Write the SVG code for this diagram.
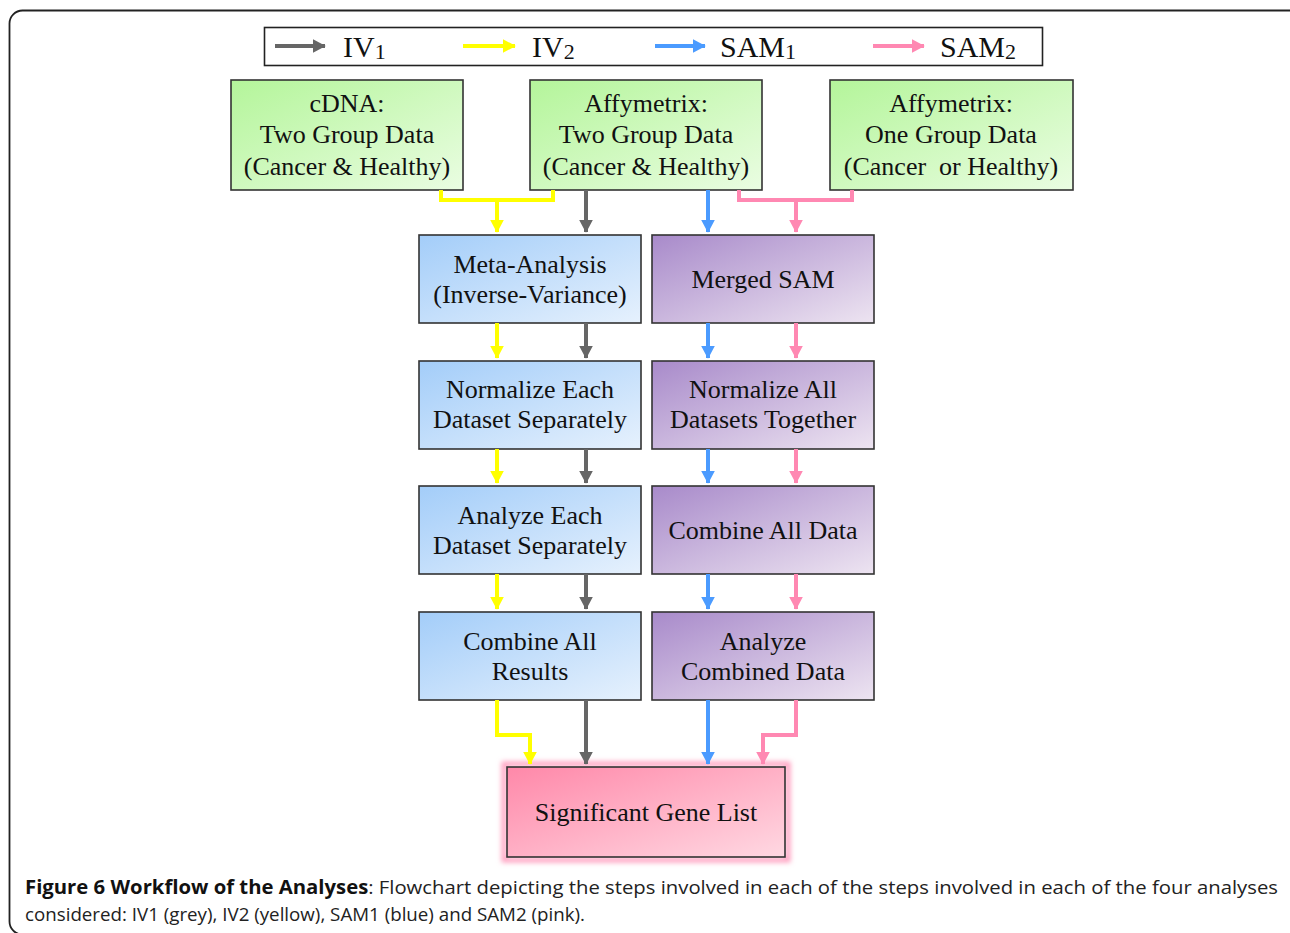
<svg xmlns="http://www.w3.org/2000/svg" width="1290" height="933" viewBox="0 0 1290 933">
<style>
.t{font-family:"Liberation Serif","Times New Roman",serif;fill:#111;text-anchor:middle}
.g{font-size:26px}
.b{font-size:26px}
.box{stroke:#333;stroke-width:1.6}
.c{fill:none;stroke-width:4}
.cap{font-family:"Open Sans","Liberation Sans",sans-serif;font-size:19px;fill:#222}
</style>
<defs>
<linearGradient id="gG" x1="0" y1="0" x2="1" y2="1"><stop offset="0" stop-color="#b4f59a"/><stop offset="1" stop-color="#eafde2"/></linearGradient>
<linearGradient id="gB" x1="0" y1="0" x2="1" y2="1"><stop offset="0" stop-color="#a3cdf9"/><stop offset="1" stop-color="#e6f1fd"/></linearGradient>
<linearGradient id="gP" x1="0" y1="0" x2="1" y2="1"><stop offset="0" stop-color="#a88aca"/><stop offset="1" stop-color="#ede4f1"/></linearGradient>
<linearGradient id="gK" x1="0" y1="0" x2="1" y2="1"><stop offset="0" stop-color="#ff88a9"/><stop offset="1" stop-color="#ffd8e2"/></linearGradient>
<filter id="glow" x="-10%" y="-10%" width="120%" height="120%"><feGaussianBlur stdDeviation="2.5"/></filter>
<marker id="aK" markerWidth="4" markerHeight="4" refX="3" refY="2" orient="auto" markerUnits="strokeWidth"><path d="M0,0.3 L3.2,2 L0,3.7 Z" fill="#666"/></marker>
<marker id="aY" markerWidth="4" markerHeight="4" refX="3" refY="2" orient="auto" markerUnits="strokeWidth"><path d="M0,0.3 L3.2,2 L0,3.7 Z" fill="#ffff00"/></marker>
<marker id="aB" markerWidth="4" markerHeight="4" refX="3" refY="2" orient="auto" markerUnits="strokeWidth"><path d="M0,0.3 L3.2,2 L0,3.7 Z" fill="#4b9bff"/></marker>
<marker id="aP" markerWidth="4" markerHeight="4" refX="3" refY="2" orient="auto" markerUnits="strokeWidth"><path d="M0,0.3 L3.2,2 L0,3.7 Z" fill="#ff88b2"/></marker>
</defs>
<rect x="0" y="0" width="1290" height="933" fill="#fff"/>
<rect x="9.5" y="10.5" width="1300" height="924" rx="13" fill="none" stroke="#222" stroke-width="1.8"/>

<g id="legend">
<rect x="264.5" y="27.5" width="778" height="38" fill="#fff" stroke="#222" stroke-width="1.6"/>
<line x1="275" y1="46" x2="325" y2="46" stroke="#666" stroke-width="4" marker-end="url(#aK)"/>
<text class="t" x="343" y="57" style="font-size:30px;text-anchor:start">IV<tspan font-size="22" dy="2">1</tspan></text>
<line x1="463" y1="46" x2="515" y2="46" stroke="#ffff00" stroke-width="4" marker-end="url(#aY)"/>
<text class="t" x="532" y="57" style="font-size:30px;text-anchor:start">IV<tspan font-size="22" dy="2">2</tspan></text>
<line x1="655" y1="46" x2="705" y2="46" stroke="#4b9bff" stroke-width="4" marker-end="url(#aB)"/>
<text class="t" x="720" y="57" style="font-size:30px;text-anchor:start">SAM<tspan font-size="22" dy="2">1</tspan></text>
<line x1="873" y1="46" x2="924" y2="46" stroke="#ff88b2" stroke-width="4" marker-end="url(#aP)"/>
<text class="t" x="940" y="57" style="font-size:30px;text-anchor:start">SAM<tspan font-size="22" dy="2">2</tspan></text>
</g>

<g id="cdna">
<rect class="box" x="231" y="80" width="232" height="110" fill="url(#gG)"/>
<text class="t g" x="347" y="112">cDNA:</text>
<text class="t g" x="347" y="143">Two Group Data</text>
<text class="t g" x="347" y="175">(Cancer &amp; Healthy)</text>
</g>
<g id="affy2">
<rect class="box" x="530" y="80" width="232" height="110" fill="url(#gG)"/>
<text class="t g" x="646" y="112">Affymetrix:</text>
<text class="t g" x="646" y="143">Two Group Data</text>
<text class="t g" x="646" y="175">(Cancer &amp; Healthy)</text>
</g>
<g id="affy1">
<rect class="box" x="830" y="80" width="243" height="110" fill="url(#gG)"/>
<text class="t g" x="951" y="112">Affymetrix:</text>
<text class="t g" x="951" y="143">One Group Data</text>
<text class="t g" x="951" y="175" xml:space="preserve">(Cancer  or Healthy)</text>
</g>

<g id="meta">
<rect class="box" x="419" y="235" width="222" height="88" fill="url(#gB)"/>
<text class="t b" x="530" y="273">Meta-Analysis</text>
<text class="t b" x="530" y="303">(Inverse-Variance)</text>
</g>
<g id="merged">
<rect class="box" x="652" y="235" width="222" height="88" fill="url(#gP)"/>
<text class="t b" x="763" y="288">Merged SAM</text>
</g>
<g id="normEach">
<rect class="box" x="419" y="361" width="222" height="88" fill="url(#gB)"/>
<text class="t b" x="530" y="398">Normalize Each</text>
<text class="t b" x="530" y="428">Dataset Separately</text>
</g>
<g id="normAll">
<rect class="box" x="652" y="361" width="222" height="88" fill="url(#gP)"/>
<text class="t b" x="763" y="398">Normalize All</text>
<text class="t b" x="763" y="428">Datasets Together</text>
</g>
<g id="anaEach">
<rect class="box" x="419" y="486" width="222" height="88" fill="url(#gB)"/>
<text class="t b" x="530" y="524">Analyze Each</text>
<text class="t b" x="530" y="554">Dataset Separately</text>
</g>
<g id="combData">
<rect class="box" x="652" y="486" width="222" height="88" fill="url(#gP)"/>
<text class="t b" x="763" y="539">Combine All Data</text>
</g>
<g id="combRes">
<rect class="box" x="419" y="612" width="222" height="88" fill="url(#gB)"/>
<text class="t b" x="530" y="650">Combine All</text>
<text class="t b" x="530" y="680">Results</text>
</g>
<g id="anaComb">
<rect class="box" x="652" y="612" width="222" height="88" fill="url(#gP)"/>
<text class="t b" x="763" y="650">Analyze</text>
<text class="t b" x="763" y="680">Combined Data</text>
</g>
<g id="sig">
<rect x="504" y="764" width="284" height="96" fill="none" stroke="#ff9fc0" stroke-width="5" filter="url(#glow)"/>
<rect class="box" x="507" y="767" width="278" height="90" fill="url(#gK)"/>
<text class="t b" x="646" y="821">Significant Gene List</text>
</g>

<g id="connectors">
<path class="c" stroke="#ffff00" d="M441,190 V200 H553 V190 M497,200 V232" marker-end="url(#aY)"/>
<path class="c" stroke="#666" d="M586,190 V232" marker-end="url(#aK)"/>
<path class="c" stroke="#4b9bff" d="M708,190 V232" marker-end="url(#aB)"/>
<path class="c" stroke="#ff88b2" d="M739,190 V200 H852 V190 M796,200 V232" marker-end="url(#aP)"/>

<path class="c" stroke="#ffff00" d="M497,323 V358" marker-end="url(#aY)"/>
<path class="c" stroke="#666" d="M586,323 V358" marker-end="url(#aK)"/>
<path class="c" stroke="#4b9bff" d="M708,323 V358" marker-end="url(#aB)"/>
<path class="c" stroke="#ff88b2" d="M796,323 V358" marker-end="url(#aP)"/>

<path class="c" stroke="#ffff00" d="M497,449 V483" marker-end="url(#aY)"/>
<path class="c" stroke="#666" d="M586,449 V483" marker-end="url(#aK)"/>
<path class="c" stroke="#4b9bff" d="M708,449 V483" marker-end="url(#aB)"/>
<path class="c" stroke="#ff88b2" d="M796,449 V483" marker-end="url(#aP)"/>

<path class="c" stroke="#ffff00" d="M497,574 V609" marker-end="url(#aY)"/>
<path class="c" stroke="#666" d="M586,574 V609" marker-end="url(#aK)"/>
<path class="c" stroke="#4b9bff" d="M708,574 V609" marker-end="url(#aB)"/>
<path class="c" stroke="#ff88b2" d="M796,574 V609" marker-end="url(#aP)"/>

<path class="c" stroke="#ffff00" d="M497,700 V735 H530 V764" marker-end="url(#aY)"/>
<path class="c" stroke="#666" d="M586,700 V764" marker-end="url(#aK)"/>
<path class="c" stroke="#4b9bff" d="M708,700 V764" marker-end="url(#aB)"/>
<path class="c" stroke="#ff88b2" d="M796,700 V735 H763 V764" marker-end="url(#aP)"/>
</g>

<g id="caption">
<text class="cap" x="25" y="894" textLength="1253" lengthAdjust="spacingAndGlyphs"><tspan font-weight="bold" fill="#111">Figure 6 Workflow of the Analyses</tspan>: Flowchart depicting the steps involved in each of the steps involved in each of the four analyses</text>
<text class="cap" x="25" y="921" textLength="560" lengthAdjust="spacingAndGlyphs">considered: IV1 (grey), IV2 (yellow), SAM1 (blue) and SAM2 (pink).</text>
</g>
</svg>
